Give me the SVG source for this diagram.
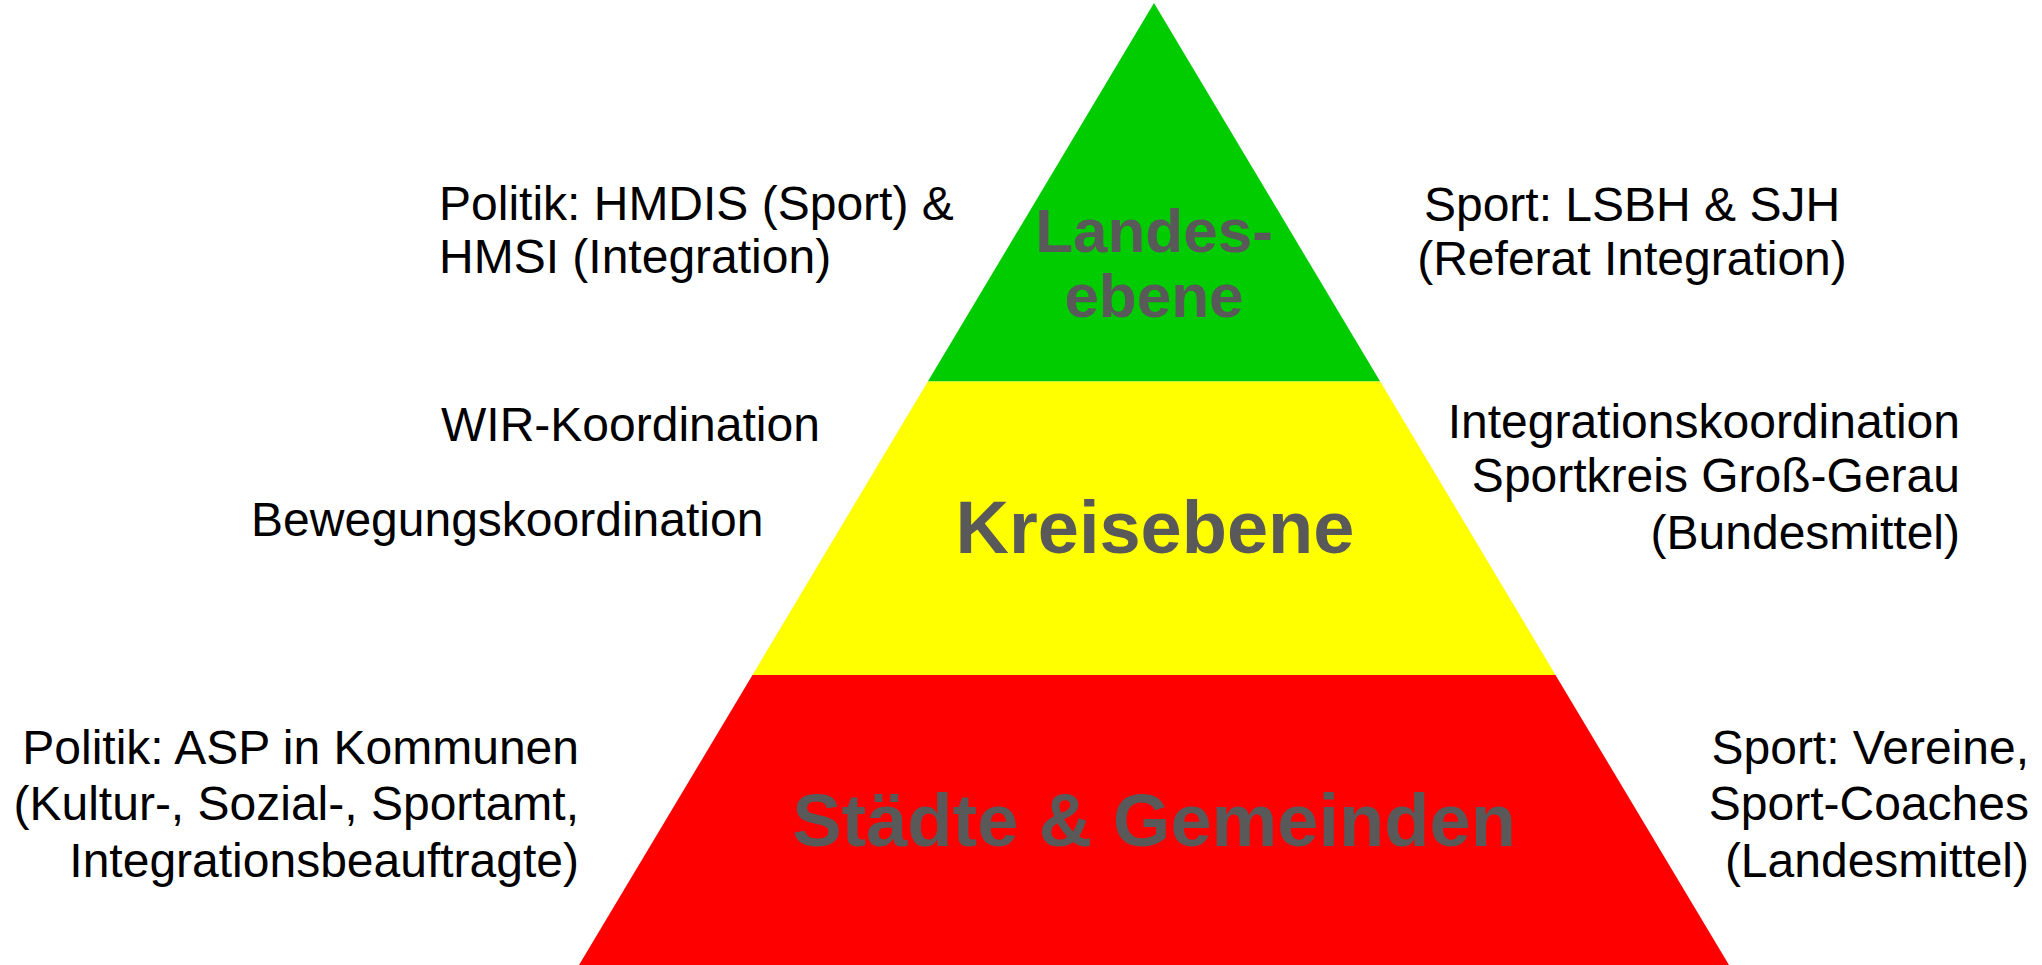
<svg xmlns="http://www.w3.org/2000/svg" width="2042" height="965" viewBox="0 0 2042 965">
<style>
.t{font-family:"Liberation Sans",Arial,sans-serif;font-size:48px;fill:#000}
.b{font-family:"Liberation Sans",Arial,sans-serif;font-weight:bold;fill:#595959;text-anchor:middle}
.r{text-anchor:end}
.m{text-anchor:middle}
</style>
<rect width="2042" height="965" fill="#fff"/>
<g id="landesebene">
<polygon points="1154,3 1380.2,381.5 927.8,381.5" fill="#00CC00"/>
<text class="b" x="1154" y="252" font-size="62">Landes-</text>
<text class="b" x="1154" y="317" font-size="62">ebene</text>
</g>
<g id="kreisebene">
<polygon points="927.8,381.5 1380.2,381.5 1555.5,675 752.5,675" fill="#FFFF00"/>
<text class="b" x="1155" y="553" font-size="74">Kreisebene</text>
</g>
<g id="staedte">
<polygon points="752.5,675 1555.5,675 1729,965 579,965" fill="#FF0000"/>
<text class="b" x="1154" y="846" font-size="74">Städte &amp; Gemeinden</text>
</g>
<g id="labels-left">
<text class="t" x="439" y="220">Politik: HMDIS (Sport) &amp;</text>
<text class="t" x="439" y="273">HMSI (Integration)</text>
<text class="t" x="441" y="441">WIR-Koordination</text>
<text class="t" x="251" y="536">Bewegungskoordination</text>
<text class="t r" x="579" y="764">Politik: ASP in Kommunen</text>
<text class="t r" x="579" y="820">(Kultur-, Sozial-, Sportamt,</text>
<text class="t r" x="579" y="877">Integrationsbeauftragte)</text>
</g>
<g id="labels-right">
<text class="t m" x="1632" y="221">Sport: LSBH &amp; SJH</text>
<text class="t m" x="1632" y="275">(Referat Integration)</text>
<text class="t r" x="1960" y="438">Integrationskoordination</text>
<text class="t r" x="1960" y="492">Sportkreis Groß-Gerau</text>
<text class="t r" x="1960" y="549">(Bundesmittel)</text>
<text class="t r" x="2029" y="764">Sport: Vereine,</text>
<text class="t r" x="2029" y="820">Sport-Coaches</text>
<text class="t r" x="2029" y="877">(Landesmittel)</text>
</g>
<g id="connectors"></g>
</svg>
